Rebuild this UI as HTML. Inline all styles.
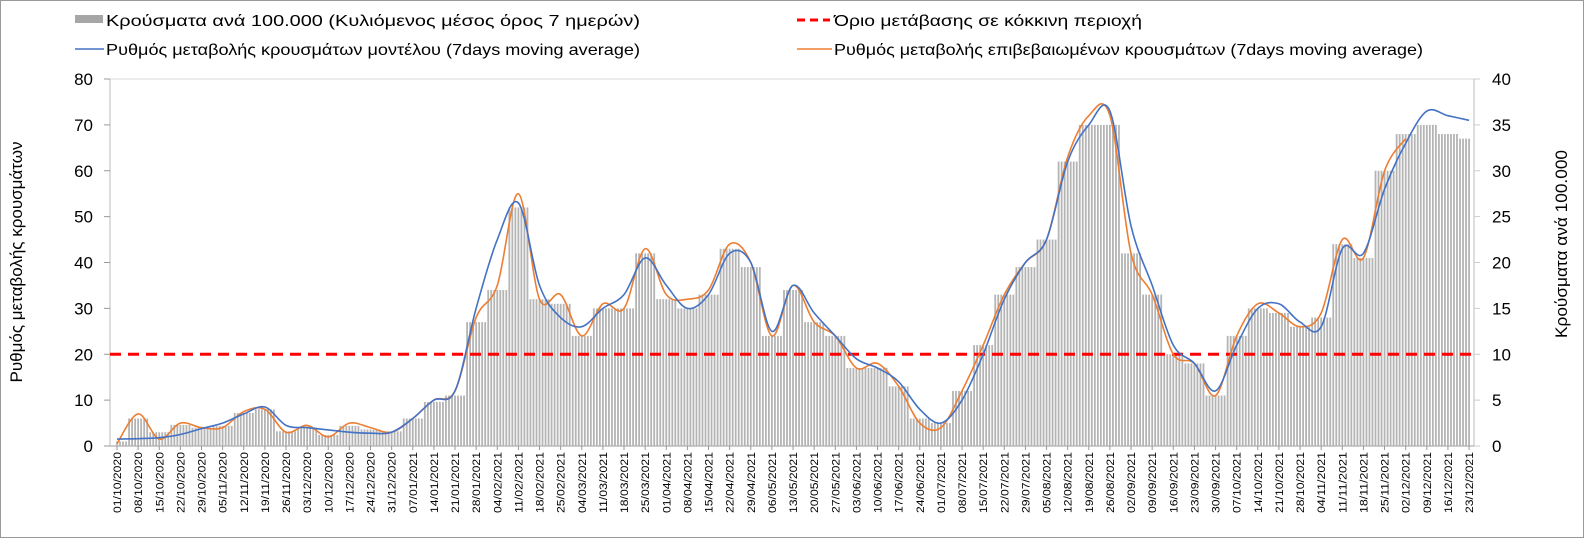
<!DOCTYPE html>
<html><head><meta charset="utf-8">
<style>
body{margin:0;background:#fff;}
svg{display:block;font-family:"Liberation Sans",sans-serif;}
</style></head>
<body>
<svg id="chart" width="1584" height="538">
<rect x="0.5" y="0.5" width="1583" height="537" fill="#fff" stroke="#999"/>
<g id="legend">
<g><rect x="75" y="15" width="28" height="8" fill="#a6a6a6"/><text x="106" y="26" font-size="16" textLength="534" lengthAdjust="spacingAndGlyphs">Κρούσματα ανά 100.000 (Κυλιόμενος μέσος όρος 7 ημερών)</text></g>
<g><line x1="797" y1="20" x2="830" y2="20" stroke="#f00" stroke-width="3" stroke-dasharray="8,5"/><text x="834" y="26" font-size="16" textLength="308" lengthAdjust="spacingAndGlyphs">Όριο μετάβασης σε κόκκινη περιοχή</text></g>
<g><line x1="75" y1="49" x2="104" y2="49" stroke="#4472c4" stroke-width="1.5"/><text x="106" y="55" font-size="16" textLength="534" lengthAdjust="spacingAndGlyphs">Ρυθμός μεταβολής κρουσμάτων μοντέλου (7days moving average)</text></g>
<g><line x1="797" y1="49" x2="832" y2="49" stroke="#ed7d31" stroke-width="1.5"/><text x="834" y="55" font-size="16" textLength="589" lengthAdjust="spacingAndGlyphs">Ρυθμός μεταβολής επιβεβαιωμένων κρουσμάτων (7days moving average)</text></g>
</g>
<text transform="translate(22,262) rotate(-90)" text-anchor="middle" font-size="17">Ρυθμός μεταβολής κρουσμάτων</text>
<text transform="translate(1567,244) rotate(-90)" text-anchor="middle" font-size="17" textLength="188" lengthAdjust="spacingAndGlyphs">Κρούσματα ανά 100.000</text>
<g id="axes"></g>
<g id="bars"></g>
<g id="lines"></g>
</svg>
<script>
const weekLabels=["01/10/2020","08/10/2020","15/10/2020","22/10/2020","29/10/2020","05/11/2020","12/11/2020","19/11/2020","26/11/2020","03/12/2020","10/12/2020","17/12/2020","24/12/2020","31/12/2020","07/01/2021","14/01/2021","21/01/2021","28/01/2021","04/02/2021","11/02/2021","18/02/2021","25/02/2021","04/03/2021","11/03/2021","18/03/2021","25/03/2021","01/04/2021","08/04/2021","15/04/2021","22/04/2021","29/04/2021","06/05/2021","13/05/2021","20/05/2021","27/05/2021","03/06/2021","10/06/2021","17/06/2021","24/06/2021","01/07/2021","08/07/2021","15/07/2021","22/07/2021","29/07/2021","05/08/2021","12/08/2021","19/08/2021","26/08/2021","02/09/2021","09/09/2021","16/09/2021","23/09/2021","30/09/2021","07/10/2021","14/10/2021","21/10/2021","28/10/2021","04/11/2021","11/11/2021","18/11/2021","25/11/2021","02/12/2021","09/12/2021","16/12/2021","23/12/2021"];
const modelRate=[1.5,1.6,1.8,2.5,3.8,5,7,8.5,4.5,4,3.5,3,2.8,3,6,10,12,30,45,53,35,28,26,30,33,41,35,30,33,42,40,25,35,29,24,19,17,14,8,5,10,20,32,40,45,62,70,73,48,35,22,18,12,22,30,31,27,26,43,42,56,66,73,72,71];
const confirmedRate=[0.5,7,1.5,5,4,4,7.5,8,3,4.5,2,5,4,3,6,10,12,28,35,55,32,33,24,31,30,43,33,32,34,44,40,24,35,27,24,17,18,13,5,4,12,22,33,40,45,63,72,72,42,33,20,18,11,24,31,29,26,29,45,41,60,67,null,null,null];
const casesPer100k=[0.5,3,1.5,2.3,2,2.2,3.6,4,1.6,2,1.2,2.2,1.8,1.6,3,4.8,5.5,13.5,17,26,16,15.5,12,15,15,21,16,15,16.5,21.5,19.5,12,17,13.5,12,8.5,8.5,6.5,3,2.5,6,11,16.5,19.5,22.5,31,35,35,21,16.5,10,9,5.5,12,15,14.5,13,14,22,20.5,30,34,35,34,33.5];
const leftTicks=[0,10,20,30,40,50,60,70,80];
const rightTicks=[0,5,10,15,20,25,30,35,40];
const threshold=20;

const NS="http://www.w3.org/2000/svg";
const x0=117,pxDay=3.018,yBase=446,yTop=79;
const xDay=d=>x0+d*pxDay;
const yL=v=>yBase-(v/80)*(yBase-yTop);
const yR=v=>yBase-(v/40)*(yBase-yTop);
function mk(t,a,p){const e=document.createElementNS(NS,t);for(const k in a)e.setAttribute(k,a[k]);p.appendChild(e);return e;}
const axes=document.getElementById('axes');
mk('line',{x1:110,y1:yTop,x2:1474,y2:yTop,stroke:'#d9d9d9'},axes);
mk('line',{x1:110,y1:yBase,x2:1474,y2:yBase,stroke:'#999'},axes);
mk('line',{x1:110,y1:yTop,x2:110,y2:yBase,stroke:'#bbb'},axes);
mk('line',{x1:1474,y1:yTop,x2:1474,y2:yBase,stroke:'#bbb'},axes);
leftTicks.forEach(v=>{
 mk('line',{x1:104,y1:yL(v),x2:110,y2:yL(v),stroke:'#999'},axes);
 const t=mk('text',{x:93,y:yL(v)+6,'text-anchor':'end','font-size':17},axes);t.textContent=v;
 
 
});
rightTicks.forEach(v=>{
 mk('line',{x1:1474,y1:yR(v),x2:1480,y2:yR(v),stroke:'#ccc'},axes);
 const t=mk('text',{x:1492,y:yR(v)+6,'font-size':17},axes);t.textContent=v;
 
 
});
weekLabels.forEach((l,i)=>{
 const x=xDay(i*7);
 mk('line',{x1:x,y1:yBase,x2:x,y2:yBase+4,stroke:'#999'},axes);
 const t=mk('text',{transform:`translate(${x+4},${yBase+67}) rotate(-90)`,'font-size':11,textLength:61,lengthAdjust:'spacingAndGlyphs'},axes);t.textContent=l;
 
 
});
const bars=document.getElementById('bars');
const nDays=(weekLabels.length-1)*7+1;
for(let d=0;d<nDays;d++){
 const w=Math.min(casesPer100k.length-1,Math.round(d/7));
 const v=casesPer100k[w];
 const b=mk('rect',{x:xDay(d)-0.9,y:yR(v),width:1.8,height:yBase-yR(v),fill:'#b4b4b4'},bars);
 
 
}
const lines=document.getElementById('lines');
const th=mk('line',{x1:110,y1:yL(threshold),x2:1474,y2:yL(threshold),stroke:'#f00','stroke-width':3,'stroke-dasharray':'11,7'},lines);


function path(arr){
 const p=[];arr.forEach((v,i)=>{if(v!=null)p.push([xDay(i*7),yL(v)]);});
 let d='M'+p[0][0].toFixed(1)+','+p[0][1].toFixed(1);
 for(let i=0;i<p.length-1;i++){
  const a=p[i-1]||p[i],b=p[i],c=p[i+1],e=p[i+2]||c;
  const c1=[b[0]+(c[0]-a[0])/6,b[1]+(c[1]-a[1])/6],c2=[c[0]-(e[0]-b[0])/6,c[1]-(e[1]-b[1])/6];
  d+='C'+c1.map(n=>n.toFixed(1))+' '+c2.map(n=>n.toFixed(1))+' '+c.map(n=>n.toFixed(1));
 }
 return d;
}
const o=mk('path',{d:path(confirmedRate),fill:'none',stroke:'#ed7d31','stroke-width':1.6},lines);


const b=mk('path',{d:path(modelRate),fill:'none',stroke:'#4472c4','stroke-width':1.6},lines);


</script>
</body></html>
